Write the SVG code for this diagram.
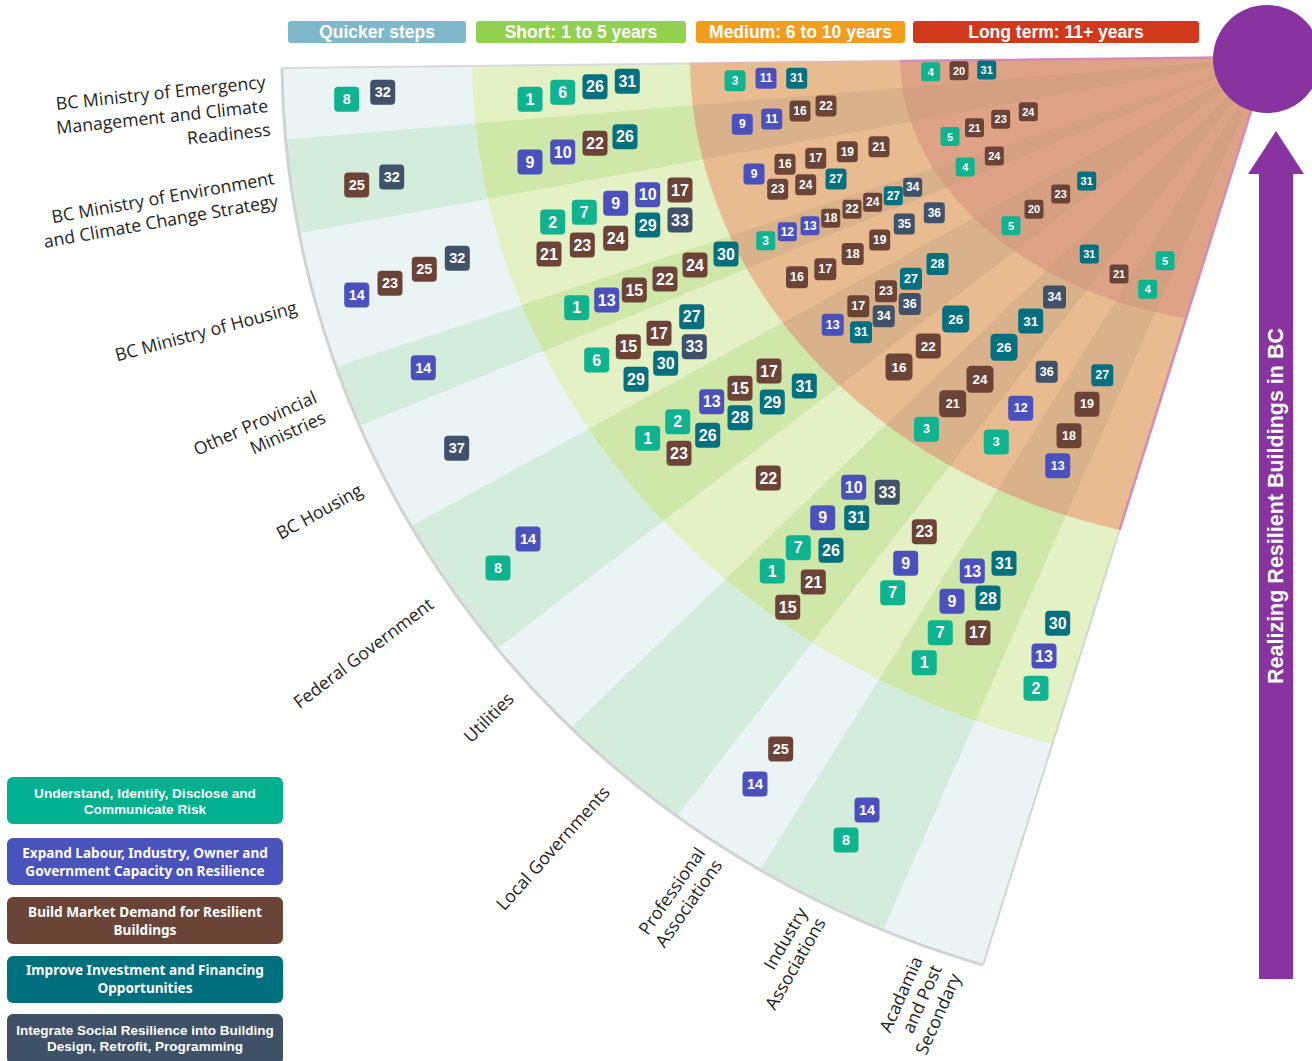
<svg xmlns="http://www.w3.org/2000/svg" xmlns:xlink="http://www.w3.org/1999/xlink" width="1312" height="1061" viewBox="0 0 1312 1061">
<style>
.lbl{font-family:"Open Sans","Noto Sans","Liberation Sans",sans-serif;font-size:17.7px;fill:#1e1e1e;text-anchor:end}
.hdr text{font-family:"Liberation Sans",Arial,sans-serif;font-weight:bold;font-size:17.5px;fill:#fff;text-anchor:middle}
.leg text{font-family:"Noto Sans","Liberation Sans",sans-serif;font-weight:bold;font-size:13.6px;fill:#fff;text-anchor:middle}
.leg text.ar{font-family:"Liberation Sans",Arial,sans-serif;font-size:13.5px}
.leg text.ar1{font-family:"Liberation Sans",Arial,sans-serif;font-size:13.6px}
.chip text{font-family:"Liberation Sans",Arial,sans-serif;font-weight:bold;fill:#fff;text-anchor:middle;dominant-baseline:central}
.cg{fill:#10b38f}.cb{fill:#4a51bd}.cr{fill:#6c4437}.ct{fill:#03707f}.cs{fill:#3f5269}
.fq text{font-size:14.5px}.fs text{font-size:16px}.fa text{font-size:12px}.fc text{font-size:12.5px}.fe text{font-size:13.5px}.fl text{font-size:11px}
</style>
<defs>
<rect id="L" x="-12.5" y="-12.5" width="25" height="25" rx="4"/>
<rect id="A" x="-10.5" y="-10.5" width="21" height="21" rx="3.5"/>
<rect id="B" x="-9.5" y="-9.5" width="19" height="19" rx="3"/>
<rect id="C" x="-11" y="-11" width="22" height="22" rx="3.5"/>
<rect id="F" x="-11.5" y="-11.5" width="23" height="23" rx="3.5"/>
<rect id="E" x="-13.5" y="-13.5" width="27" height="27" rx="4.5"/>
<path id="wd" d="M1268,57 L171.9,149 L185.7,253.7Z M1268,57 L224.2,404.2 L248.8,470.8Z M1268,57 L303.1,585.2 L395.3,726.6Z M1268,57 L475.4,819.7 L592.3,925Z M1268,57 L685.1,989.9 L824.3,1063.5Z"/>
<clipPath id="kO"><path d="M1268,57 L282,68 A986,948.5 0 0 0 983,965 Z"/></clipPath>
<clipPath id="kS"><path d="M1268,57 L472,65.9 A796,713.6 0 0 0 1052.4,744 Z"/></clipPath>
<clipPath id="kM"><path d="M1268,57 L690,63.4 A578,489.3 0 0 0 1119.6,529.9 Z"/></clipPath>
<clipPath id="kL"><path d="M1268,57 L900,61.1 A368,268.1 0 0 0 1186,318.3 Z"/></clipPath>
</defs>

<g id="fan">
<path d="M1268,57 L282,68 A986,948.5 0 0 0 983,965 Z" fill="#eaf4f4"/>
<use href="#wd" fill="#d4ecdc" clip-path="url(#kO)"/>
<path d="M1268,57 L472,65.9 A796,713.6 0 0 0 1052.4,744 Z" fill="#e3f1c4"/>
<use href="#wd" fill="#cfe8a9" clip-path="url(#kS)"/>
<path d="M1268,57 L690,63.4 A578,489.3 0 0 0 1119.6,529.9 Z" fill="#e8bc90"/>
<use href="#wd" fill="#d9b28b" clip-path="url(#kM)"/>
<path d="M1268,57 L900,61.1 A368,268.1 0 0 0 1186,318.3 Z" fill="#dea387"/>
<use href="#wd" fill="#d5a082" clip-path="url(#kL)"/>
<path d="M282,68 A986,948.5 0 0 0 983,965" fill="none" stroke="#d2d2d2" stroke-width="3"/>
<path d="M282,68 L690,63.4" fill="none" stroke="#dadada" stroke-width="2"/>
<path d="M983,965 L1119.6,529.9" fill="none" stroke="#d3d8cc" stroke-width="2"/>
<path d="M690,63.4 L900,61.1" fill="none" stroke="#e6b6b0" stroke-width="2"/>
<path d="M900,61.1 L1268,57 L1119.6,529.9" fill="none" stroke="#d88ab6" stroke-width="2.5"/>
</g>

<g id="goal">
<circle cx="1267" cy="59" r="54" fill="#8833a0"/>
<polygon points="1276,131 1304,174 1293,174 1293,979 1259,979 1259,174 1248,174" fill="#8833a0"/>
<text x="1276" y="506" transform="rotate(-90 1276 506)" font-family="Liberation Sans, Arial, sans-serif" font-weight="bold" font-size="21.5" fill="#fff" text-anchor="middle" dominant-baseline="central">Realizing Resilient Buildings in BC</text>
</g>

<g id="headers" class="hdr">
<g id="h-quicker"><rect x="288" y="21" width="178" height="22" rx="3" fill="#7fb8ca"/><text x="377" y="38">Quicker steps</text></g>
<g id="h-short"><rect x="476" y="21" width="210" height="22" rx="3" fill="#92d050"/><text x="581" y="38">Short: 1 to 5 years</text></g>
<g id="h-medium"><rect x="696" y="21" width="209" height="22" rx="3" fill="#f39d1f"/><text x="800.5" y="38">Medium: 6 to 10 years</text></g>
<g id="h-long"><rect x="913" y="21" width="286" height="22" rx="3" fill="#d1391c"/><text x="1056" y="38">Long term: 11+ years</text></g>
</g>

<g id="labels">
<text class="lbl" transform="translate(266,88) rotate(-6)"><tspan x="0" y="0">BC Ministry of Emergency</tspan><tspan x="0" y="24">Management and Climate</tspan><tspan x="0" y="48">Readiness</tspan></text>
<text class="lbl" transform="translate(275,184) rotate(-10)"><tspan x="0" y="0">BC Ministry of Environment</tspan><tspan x="0" y="23">and Climate Change Strategy</tspan></text>
<text class="lbl" transform="translate(298,313) rotate(-15)">BC Ministry of Housing</text>
<text class="lbl" transform="translate(318,402) rotate(-24)"><tspan x="0" y="0">Other Provincial</tspan><tspan x="0" y="22">Ministries</tspan></text>
<text class="lbl" transform="translate(364,494) rotate(-29)">BC Housing</text>
<text class="lbl" transform="translate(435,607) rotate(-37)">Federal Government</text>
<text class="lbl" transform="translate(515,700) rotate(-45)">Utilities</text>
<text class="lbl" transform="translate(611,793) rotate(-48)">Local Governments</text>
<text class="lbl" transform="translate(706,853) rotate(-55)"><tspan x="0" y="0">Professional</tspan><tspan x="0" y="21">Associations</tspan></text>
<text class="lbl" transform="translate(808,912) rotate(-60)"><tspan x="0" y="0">Industry</tspan><tspan x="0" y="21">Associations</tspan></text>
<text class="lbl" transform="translate(923,960) rotate(-66)"><tspan x="0" y="0">Acadamia</tspan><tspan x="0" y="21">and Post</tspan><tspan x="0" y="42">Secondary</tspan></text>
</g>

<g id="legend" class="leg">
<g id="leg-risk"><rect x="7" y="777" width="276" height="47" rx="6" fill="#00b08f"/><text class="ar1" x="145" y="797.5">Understand, Identify, Disclose and</text><text class="ar1" x="145" y="813.5">Communicate Risk</text></g>
<g id="leg-capacity"><rect x="7" y="838" width="276" height="47" rx="6" fill="#4a52bc"/><text x="145" y="857.5">Expand Labour, Industry, Owner and</text><text x="145" y="875.5">Government Capacity on Resilience</text></g>
<g id="leg-market"><rect x="7" y="897" width="276" height="47" rx="6" fill="#6b4438"/><text x="145" y="916.5">Build Market Demand for Resilient</text><text x="145" y="934.7">Buildings</text></g>
<g id="leg-invest"><rect x="7" y="956" width="276" height="47" rx="6" fill="#006f7e"/><text x="145" y="974.7">Improve Investment and Financing</text><text x="145" y="993">Opportunities</text></g>
<g id="leg-social"><rect x="7" y="1014" width="276" height="50" rx="6" fill="#3e5167"/><text class="ar" x="145" y="1035">Integrate Social Resilience into Building</text><text class="ar" x="145" y="1050.5">Design, Retrofit, Programming</text></g>
</g>

<g id="chips-quicker">
<g id="q1" class="chip cg fq" transform="translate(346.7,99.3)"><use href="#L"/><text>8</text></g>
<g id="q2" class="chip cs fq" transform="translate(382.7,92.3)"><use href="#L"/><text>32</text></g>
<g id="q3" class="chip cr fq" transform="translate(356.7,185)"><use href="#L"/><text>25</text></g>
<g id="q4" class="chip cs fq" transform="translate(391.7,177)"><use href="#L"/><text>32</text></g>
<g id="q5" class="chip cb fq" transform="translate(356.7,295)"><use href="#L"/><text>14</text></g>
<g id="q6" class="chip cr fq" transform="translate(390,283.3)"><use href="#L"/><text>23</text></g>
<g id="q7" class="chip cr fq" transform="translate(424.3,269.3)"><use href="#L"/><text>25</text></g>
<g id="q8" class="chip cs fq" transform="translate(457.3,258.3)"><use href="#L"/><text>32</text></g>
<g id="q9" class="chip cb fq" transform="translate(423.3,367.7)"><use href="#L"/><text>14</text></g>
<g id="q10" class="chip cs fq" transform="translate(456.7,448.3)"><use href="#L"/><text>37</text></g>
<g id="q11" class="chip cb fq" transform="translate(528,539)"><use href="#L"/><text>14</text></g>
<g id="q12" class="chip cg fq" transform="translate(498,568)"><use href="#L"/><text>8</text></g>
<g id="q13" class="chip cr fq" transform="translate(780.7,749)"><use href="#L"/><text>25</text></g>
<g id="q14" class="chip cb fq" transform="translate(755,784)"><use href="#L"/><text>14</text></g>
<g id="q15" class="chip cb fq" transform="translate(867,810)"><use href="#L"/><text>14</text></g>
<g id="q16" class="chip cg fq" transform="translate(846,840)"><use href="#L"/><text>8</text></g>
</g>

<g id="chips-short">
<g id="s1" class="chip cg fs" transform="translate(530,99.3)"><use href="#L"/><text>1</text></g>
<g id="s2" class="chip cg fs" transform="translate(562.7,92.3)"><use href="#L"/><text>6</text></g>
<g id="s3" class="chip ct fs" transform="translate(595,86.7)"><use href="#L"/><text>26</text></g>
<g id="s4" class="chip ct fs" transform="translate(627.3,81.3)"><use href="#L"/><text>31</text></g>
<g id="s5" class="chip cb fs" transform="translate(530,162)"><use href="#L"/><text>9</text></g>
<g id="s6" class="chip cb fs" transform="translate(562.7,152)"><use href="#L"/><text>10</text></g>
<g id="s7" class="chip cr fs" transform="translate(595,143.3)"><use href="#L"/><text>22</text></g>
<g id="s8" class="chip ct fs" transform="translate(625,136.7)"><use href="#L"/><text>26</text></g>
<g id="s9" class="chip cg fs" transform="translate(552.7,222)"><use href="#L"/><text>2</text></g>
<g id="s10" class="chip cg fs" transform="translate(584.3,212.3)"><use href="#L"/><text>7</text></g>
<g id="s11" class="chip cb fs" transform="translate(615.7,203.3)"><use href="#L"/><text>9</text></g>
<g id="s12" class="chip cb fs" transform="translate(647.7,194.7)"><use href="#L"/><text>10</text></g>
<g id="s13" class="chip cr fs" transform="translate(680,190)"><use href="#L"/><text>17</text></g>
<g id="s14" class="chip ct fs" transform="translate(647.7,225)"><use href="#L"/><text>29</text></g>
<g id="s15" class="chip cs fs" transform="translate(680,220)"><use href="#L"/><text>33</text></g>
<g id="s16" class="chip cr fs" transform="translate(549,254)"><use href="#L"/><text>21</text></g>
<g id="s17" class="chip cr fs" transform="translate(582.3,245)"><use href="#L"/><text>23</text></g>
<g id="s18" class="chip cr fs" transform="translate(615.7,238.3)"><use href="#L"/><text>24</text></g>
<g id="s19" class="chip ct fs" transform="translate(726,254)"><use href="#L"/><text>30</text></g>
<g id="s20" class="chip cr fs" transform="translate(695,265)"><use href="#L"/><text>24</text></g>
<g id="s21" class="chip cr fs" transform="translate(665,279)"><use href="#L"/><text>22</text></g>
<g id="s22" class="chip cr fs" transform="translate(634.3,290)"><use href="#L"/><text>15</text></g>
<g id="s23" class="chip cb fs" transform="translate(606.7,300)"><use href="#L"/><text>13</text></g>
<g id="s24" class="chip cg fs" transform="translate(576.7,307.7)"><use href="#L"/><text>1</text></g>
<g id="s25" class="chip ct fs" transform="translate(691.7,316.7)"><use href="#L"/><text>27</text></g>
<g id="s26" class="chip cr fs" transform="translate(659,333.3)"><use href="#L"/><text>17</text></g>
<g id="s27" class="chip cr fs" transform="translate(628.3,346.7)"><use href="#L"/><text>15</text></g>
<g id="s28" class="chip cs fs" transform="translate(694.3,346.7)"><use href="#L"/><text>33</text></g>
<g id="s29" class="chip cg fs" transform="translate(596.7,360)"><use href="#L"/><text>6</text></g>
<g id="s30" class="chip ct fs" transform="translate(665.7,363.3)"><use href="#L"/><text>30</text></g>
<g id="s31" class="chip ct fs" transform="translate(636,379.3)"><use href="#L"/><text>29</text></g>
<g id="s32" class="chip cr fs" transform="translate(769,371)"><use href="#L"/><text>17</text></g>
<g id="s33" class="chip cr fs" transform="translate(740,388.3)"><use href="#L"/><text>15</text></g>
<g id="s34" class="chip ct fs" transform="translate(804.3,386)"><use href="#L"/><text>31</text></g>
<g id="s35" class="chip cb fs" transform="translate(711.7,401.7)"><use href="#L"/><text>13</text></g>
<g id="s36" class="chip ct fs" transform="translate(772.3,402)"><use href="#L"/><text>29</text></g>
<g id="s37" class="chip ct fs" transform="translate(740,417.7)"><use href="#L"/><text>28</text></g>
<g id="s38" class="chip cg fs" transform="translate(677.7,421.7)"><use href="#L"/><text>2</text></g>
<g id="s39" class="chip ct fs" transform="translate(707.7,435.3)"><use href="#L"/><text>26</text></g>
<g id="s40" class="chip cg fs" transform="translate(647.7,438.3)"><use href="#L"/><text>1</text></g>
<g id="s41" class="chip cr fs" transform="translate(679,453.3)"><use href="#L"/><text>23</text></g>
<g id="s42" class="chip cr fs" transform="translate(768.3,478)"><use href="#L"/><text>22</text></g>
<g id="s43" class="chip cb fs" transform="translate(853.7,487.3)"><use href="#L"/><text>10</text></g>
<g id="s44" class="chip cs fs" transform="translate(887.3,492.3)"><use href="#L"/><text>33</text></g>
<g id="s45" class="chip cb fs" transform="translate(822.7,517.7)"><use href="#L"/><text>9</text></g>
<g id="s46" class="chip ct fs" transform="translate(856.7,517.7)"><use href="#L"/><text>31</text></g>
<g id="s47" class="chip cg fs" transform="translate(798.3,547.7)"><use href="#L"/><text>7</text></g>
<g id="s48" class="chip ct fs" transform="translate(831,550.3)"><use href="#L"/><text>26</text></g>
<g id="s49" class="chip cg fs" transform="translate(772.3,571)"><use href="#L"/><text>1</text></g>
<g id="s50" class="chip cr fs" transform="translate(813.3,582)"><use href="#L"/><text>21</text></g>
<g id="s51" class="chip cr fs" transform="translate(787.7,607.3)"><use href="#L"/><text>15</text></g>
<g id="s52" class="chip cr fs" transform="translate(924.3,531.7)"><use href="#L"/><text>23</text></g>
<g id="s53" class="chip cb fs" transform="translate(905.7,563.3)"><use href="#L"/><text>9</text></g>
<g id="s54" class="chip cg fs" transform="translate(892.7,592.7)"><use href="#L"/><text>7</text></g>
<g id="s55" class="chip cb fs" transform="translate(972.3,571)"><use href="#L"/><text>13</text></g>
<g id="s56" class="chip ct fs" transform="translate(1004,563.3)"><use href="#L"/><text>31</text></g>
<g id="s57" class="chip cb fs" transform="translate(952,601.3)"><use href="#L"/><text>9</text></g>
<g id="s58" class="chip ct fs" transform="translate(988,598)"><use href="#L"/><text>28</text></g>
<g id="s59" class="chip cg fs" transform="translate(940.3,632.7)"><use href="#L"/><text>7</text></g>
<g id="s60" class="chip cr fs" transform="translate(978,632.7)"><use href="#L"/><text>17</text></g>
<g id="s61" class="chip cg fs" transform="translate(924.3,662.7)"><use href="#L"/><text>1</text></g>
<g id="s62" class="chip ct fs" transform="translate(1057.7,623.3)"><use href="#L"/><text>30</text></g>
<g id="s63" class="chip cb fs" transform="translate(1044,656)"><use href="#L"/><text>13</text></g>
<g id="s64" class="chip cg fs" transform="translate(1036,688.3)"><use href="#L"/><text>2</text></g>
</g>

<g id="chips-medium">
<g id="m1" class="chip cg fa" transform="translate(735,80.7)"><use href="#A"/><text>3</text></g>
<g id="m2" class="chip cb fa" transform="translate(766,78.3)"><use href="#A"/><text>11</text></g>
<g id="m3" class="chip ct fa" transform="translate(796.7,78.3)"><use href="#A"/><text>31</text></g>
<g id="m4" class="chip cb fa" transform="translate(742.3,124.3)"><use href="#A"/><text>9</text></g>
<g id="m5" class="chip cb fa" transform="translate(771.7,119)"><use href="#A"/><text>11</text></g>
<g id="m6" class="chip cr fa" transform="translate(800,111)"><use href="#A"/><text>16</text></g>
<g id="m7" class="chip cr fa" transform="translate(826,106)"><use href="#A"/><text>22</text></g>
<g id="m8" class="chip cb fa" transform="translate(754,174)"><use href="#A"/><text>9</text></g>
<g id="m9" class="chip cr fa" transform="translate(785,164.3)"><use href="#A"/><text>16</text></g>
<g id="m10" class="chip cr fa" transform="translate(815.7,158.3)"><use href="#A"/><text>17</text></g>
<g id="m11" class="chip cr fa" transform="translate(847.3,151.7)"><use href="#A"/><text>19</text></g>
<g id="m12" class="chip cr fa" transform="translate(879,146.7)"><use href="#A"/><text>21</text></g>
<g id="m13" class="chip cr fa" transform="translate(777.7,189.3)"><use href="#A"/><text>23</text></g>
<g id="m14" class="chip cr fa" transform="translate(805.7,184.7)"><use href="#A"/><text>24</text></g>
<g id="m15" class="chip ct fa" transform="translate(836,179)"><use href="#A"/><text>27</text></g>
<g id="m16" class="chip cg fa" transform="translate(765.7,240.7)"><use href="#B"/><text>3</text></g>
<g id="m17" class="chip cb fa" transform="translate(787.3,231.7)"><use href="#B"/><text>12</text></g>
<g id="m18" class="chip cb fa" transform="translate(810,225.7)"><use href="#B"/><text>13</text></g>
<g id="m19" class="chip cr fa" transform="translate(830.7,218.3)"><use href="#B"/><text>18</text></g>
<g id="m20" class="chip cr fa" transform="translate(852,209.3)"><use href="#B"/><text>22</text></g>
<g id="m21" class="chip cr fa" transform="translate(872.7,202.3)"><use href="#B"/><text>24</text></g>
<g id="m22" class="chip ct fa" transform="translate(893.3,195.7)"><use href="#B"/><text>27</text></g>
<g id="m23" class="chip cs fa" transform="translate(912.7,187.3)"><use href="#B"/><text>34</text></g>
<g id="m24" class="chip cs fa" transform="translate(934.3,212.7)"><use href="#A"/><text>36</text></g>
<g id="m25" class="chip cs fa" transform="translate(904.3,224)"><use href="#A"/><text>35</text></g>
<g id="m26" class="chip cr fa" transform="translate(879.7,240)"><use href="#A"/><text>19</text></g>
<g id="m27" class="chip cr fc" transform="translate(852.7,254)"><use href="#C"/><text>18</text></g>
<g id="m28" class="chip cr fc" transform="translate(825.3,269.3)"><use href="#C"/><text>17</text></g>
<g id="m29" class="chip cr fc" transform="translate(797,277.3)"><use href="#C"/><text>16</text></g>
<g id="m30" class="chip ct fc" transform="translate(937.5,264)"><use href="#C"/><text>28</text></g>
<g id="m31" class="chip ct fc" transform="translate(911,278.7)"><use href="#C"/><text>27</text></g>
<g id="m32" class="chip cr fc" transform="translate(886,291.3)"><use href="#C"/><text>23</text></g>
<g id="m33" class="chip cs fc" transform="translate(909.8,304)"><use href="#C"/><text>36</text></g>
<g id="m34" class="chip cr fc" transform="translate(858.3,306.3)"><use href="#C"/><text>17</text></g>
<g id="m35" class="chip cs fc" transform="translate(883.7,316.3)"><use href="#C"/><text>34</text></g>
<g id="m36" class="chip cb fc" transform="translate(832.7,324.7)"><use href="#C"/><text>13</text></g>
<g id="m37" class="chip ct fc" transform="translate(861,332.3)"><use href="#C"/><text>31</text></g>
<g id="m38" class="chip ct fe" transform="translate(955.7,319)"><use href="#E"/><text>26</text></g>
<g id="m39" class="chip cr fe" transform="translate(928.3,346)"><use href="#L"/><text>22</text></g>
<g id="m40" class="chip cr fe" transform="translate(899,367)"><use href="#E"/><text>16</text></g>
<g id="m41" class="chip cs fc" transform="translate(1054.5,297)"><use href="#F"/><text>34</text></g>
<g id="m42" class="chip ct fe" transform="translate(1030.7,321)"><use href="#L"/><text>31</text></g>
<g id="m43" class="chip ct fe" transform="translate(1004,347.3)"><use href="#E"/><text>26</text></g>
<g id="m44" class="chip cr fe" transform="translate(980,379.3)"><use href="#E"/><text>24</text></g>
<g id="m45" class="chip cr fc" transform="translate(952.7,403.7)"><use href="#E"/><text>21</text></g>
<g id="m46" class="chip cg fc" transform="translate(926.5,429.3)"><use href="#L"/><text>3</text></g>
<g id="m47" class="chip cs fc" transform="translate(1046.7,371.7)"><use href="#C"/><text>36</text></g>
<g id="m48" class="chip cb fc" transform="translate(1020.7,408.3)"><use href="#L"/><text>12</text></g>
<g id="m49" class="chip cg fc" transform="translate(996.3,442)"><use href="#L"/><text>3</text></g>
<g id="m50" class="chip ct fc" transform="translate(1102.3,375.3)"><use href="#C"/><text>27</text></g>
<g id="m51" class="chip cr fc" transform="translate(1087,404.3)"><use href="#L"/><text>19</text></g>
<g id="m52" class="chip cr fc" transform="translate(1069,435.7)"><use href="#L"/><text>18</text></g>
<g id="m53" class="chip cb fc" transform="translate(1057.7,465.7)"><use href="#L"/><text>13</text></g>
</g>

<g id="chips-long">
<g id="l1" class="chip cg fl" transform="translate(930.7,71.7)"><use href="#B"/><text>4</text></g>
<g id="l2" class="chip cr fl" transform="translate(959,70.7)"><use href="#B"/><text>20</text></g>
<g id="l3" class="chip ct fl" transform="translate(986.7,70)"><use href="#B"/><text>31</text></g>
<g id="l4" class="chip cg fl" transform="translate(950,136.5)"><use href="#B"/><text>5</text></g>
<g id="l5" class="chip cr fl" transform="translate(974.5,127.8)"><use href="#B"/><text>21</text></g>
<g id="l6" class="chip cr fl" transform="translate(1000.7,119.3)"><use href="#B"/><text>23</text></g>
<g id="l7" class="chip cr fl" transform="translate(1028.3,111.7)"><use href="#B"/><text>24</text></g>
<g id="l8" class="chip cg fl" transform="translate(965.2,167)"><use href="#B"/><text>4</text></g>
<g id="l9" class="chip cr fl" transform="translate(994.3,156)"><use href="#B"/><text>24</text></g>
<g id="l10" class="chip cg fl" transform="translate(1011,225.7)"><use href="#B"/><text>5</text></g>
<g id="l11" class="chip cr fl" transform="translate(1034,209.3)"><use href="#B"/><text>20</text></g>
<g id="l12" class="chip cr fl" transform="translate(1060.7,194)"><use href="#B"/><text>23</text></g>
<g id="l13" class="chip ct fl" transform="translate(1086.7,181)"><use href="#B"/><text>31</text></g>
<g id="l14" class="chip ct fl" transform="translate(1089.3,254)"><use href="#B"/><text>31</text></g>
<g id="l15" class="chip cr fl" transform="translate(1119,274)"><use href="#B"/><text>21</text></g>
<g id="l16" class="chip cg fl" transform="translate(1165,260.8)"><use href="#B"/><text>5</text></g>
<g id="l17" class="chip cg fl" transform="translate(1147.7,289.3)"><use href="#B"/><text>4</text></g>
</g>
</svg>
